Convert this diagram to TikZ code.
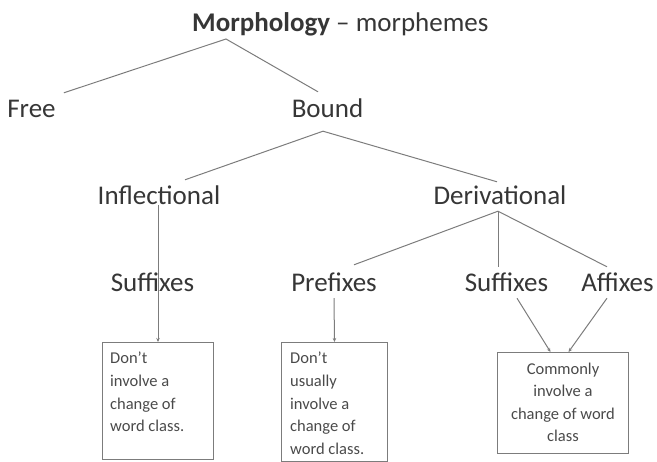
\documentclass[tikz,border=0pt]{standalone}
\usepackage{fontspec}
\setmainfont{Carlito}
\usepackage{xcolor}
\usetikzlibrary{arrows.meta,positioning,calc}
\definecolor{inkgray}{HTML}{363636}
\definecolor{linegray}{HTML}{7C7C7C}

\begin{document}
\begin{tikzpicture}[x=1pt, y=-1pt,
    term/.style={font=\fontsize{27}{30}\selectfont, text=inkgray, inner sep=0pt, anchor=base, text height=19pt, text depth=6pt},
    note/.style={rectangle, draw=linegray, line width=1pt, inner sep=0pt, anchor=north west},
    notetext/.style={font=\fontsize{16.5}{22.6}\selectfont, text=inkgray!90, inner sep=0pt, align=#1},
    branch/.style={draw=linegray, line width=1pt},
    tip/.style={branch, -{Stealth[length=4pt, width=3.5pt]}}
]
\useasboundingbox (0,0) rectangle (657,462);

% Tree levels
\node[term, anchor=base west] (title) at (192,32) {\textbf{Morphology} -- morphemes};
\node[term] (free) at (31.5,118) {Free};
\node[term] (bound) at (327.5,118) {Bound};
\node[term] (infl) at (159,205) {Inflectional};
\node[term] (deriv) at (500,205) {Derivational};
\node[term] (suf-i) at (152.5,292) {Suffixes};
\node[term] (pre) at (334,292) {Prefixes};
\node[term] (suf-d) at (506.5,292) {Suffixes};
\node[term] (aff) at (617.5,292) {Affixes};

% Note boxes
\node[note, minimum width=111pt, minimum height=117pt] (box-i) at (102,342) {};
\node[note, minimum width=106pt, minimum height=119pt] (box-p) at (281,342) {};
\node[note, minimum width=131pt, minimum height=101pt] (box-d) at (497,352) {};
\node[notetext=left, anchor=north west] (txt-i) at ([shift={(8,10)}]box-i.north west) {Don't\\involve a\\change of\\word class.};
\node[notetext=left, anchor=north west] (txt-p) at ([shift={(9,10)}]box-p.north west) {Don't\\usually\\involve a\\change of\\word class.};
\node[notetext=center, anchor=north] (txt-d) at ([yshift=-10.5pt]box-d.north) {Commonly\\involve a\\change of word\\class};

% Branches
\coordinate (title-j) at (226,39);
\coordinate (bound-j) at ([shift={(-4.5,7)}]bound.south);
\coordinate (deriv-j) at ([xshift=-2pt]deriv.south);
\draw[branch] ([shift={(8,-6)}]free.north east) -- (title-j) -- ([shift={(-9.5,-7)}]bound.north);
\draw[branch] ([shift={(26,-6)}]infl.north) -- (bound-j) -- ([shift={(-3,-4)}]deriv.north);
\draw[branch] ([shift={(20,-8)}]pre.north) -- (deriv-j) -- ([shift={(-10.5,-6)}]aff.north);
\draw[branch] (deriv-j) -- ($(deriv-j |- suf-d.north)+(0,-6)$);

% Arrows into the boxes
\draw[tip] (box-i.north |- infl.base) -- (box-i.north);
\draw[tip] (pre.south) -- (box-p.north);
\draw[tip] ([xshift=10.5pt]suf-d.south) -- ([xshift=-12.5pt]box-d.north);
\draw[tip] ([xshift=-10.5pt]aff.south) -- ([xshift=5.5pt]box-d.north);
\end{tikzpicture}
\end{document}
